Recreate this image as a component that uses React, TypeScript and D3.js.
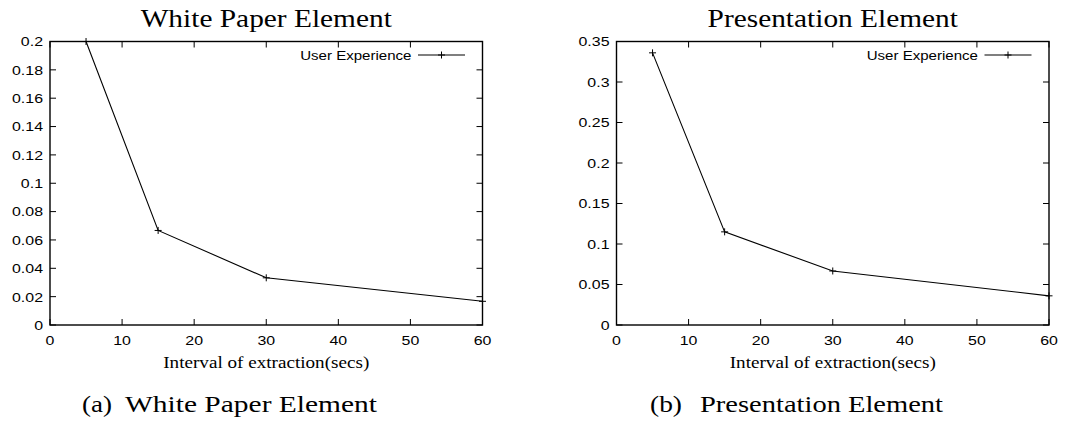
import React from "react";
import * as d3 from "d3";

// ---- data ----
const intervals = [5, 15, 30, 60];
const whitePaperValues = [0.2, 0.0667, 0.0333, 0.0167];
const presentationValues = [0.336, 0.115, 0.0667, 0.036];

const xTicks = [0, 10, 20, 30, 40, 50, 60];
const yTicksWhite = [0, 0.02, 0.04, 0.06, 0.08, 0.1, 0.12, 0.14, 0.16, 0.18, 0.2];
const yTicksPres = [0, 0.05, 0.1, 0.15, 0.2, 0.25, 0.3, 0.35];

const seriesName = "User Experience";
const xLabel = "Interval of extraction(secs)";

const SANS = "'Liberation Sans', Arial, Helvetica, sans-serif";
const SERIF = "'Liberation Serif', 'Times New Roman', serif";

function SText({ x, y, anchor = "start", size, family, sx = 1.15, dy, children }: any) {
  return (
    <text
      transform={`translate(${x},${y}) scale(${sx},1)`}
      textAnchor={anchor}
      fontSize={size}
      fontFamily={family}
      dy={dy}
      fill="#000"
    >
      {children}
    </text>
  );
}

function Panel({ x0, x1, title, values, yMax, yTicks, capTag, capText, capTagX, capTagW, capTextX, capTextW }: any) {
  const top = 41.5;
  const bottom = 325;
  const x = d3.scaleLinear().domain([0, 60]).range([x0, x1]);
  const y = d3.scaleLinear().domain([0, yMax]).range([bottom, top]);
  const line = d3
    .line<number>()
    .x((_, i) => x(intervals[i]))
    .y((d) => y(d));
  const tl = 6;
  const fmt = (v: number) => String(+v.toFixed(2));
  const cx = (x0 + x1) / 2;
  const legY = 55;
  const legLineA = x1 - 64.5;
  const legLineB = x1 - 17.5;
  const ms = 3.5;
  return (
    <g>
      {/* title */}
      <SText x={cx} y={26.7} anchor="middle" size={26} family={SERIF} sx={1.13}>
        {title}
      </SText>
      {/* ticks */}
      {xTicks.map((t) => (
        <g key={"x" + t}>
          <line x1={x(t)} x2={x(t)} y1={bottom} y2={bottom - tl} stroke="#000" strokeWidth={1} />
          <line x1={x(t)} x2={x(t)} y1={top} y2={top + tl} stroke="#000" strokeWidth={1} />
          <SText x={x(t)} y={345} anchor="middle" size={13.5} family={SANS} sx={1.18}>
            {String(t)}
          </SText>
        </g>
      ))}
      {yTicks.map((t: number) => (
        <g key={"y" + t}>
          <line x1={x0} x2={x0 + tl} y1={y(t)} y2={y(t)} stroke="#000" strokeWidth={1} />
          <line x1={x1} x2={x1 - tl} y1={y(t)} y2={y(t)} stroke="#000" strokeWidth={1} />
          <SText x={x0 - 7} y={y(t)} anchor="end" size={13.5} family={SANS} sx={1.18} dy="0.36em">
            {fmt(t)}
          </SText>
        </g>
      ))}
      {/* frame */}
      <rect x={x0} y={top} width={x1 - x0} height={bottom - top} fill="none" stroke="#000" strokeWidth={1.4} />
      {/* series */}
      <path d={line(values) || ""} fill="none" stroke="#000" strokeWidth={1.1} />
      {values.map((v: number, i: number) => (
        <g key={"m" + i} stroke="#000" strokeWidth={1}>
          <line x1={x(intervals[i]) - ms} x2={x(intervals[i]) + ms} y1={y(v)} y2={y(v)} />
          <line x1={x(intervals[i])} x2={x(intervals[i])} y1={y(v) - ms} y2={y(v) + ms} />
        </g>
      ))}
      {/* legend */}
      <SText x={x1 - 71} y={legY} anchor="end" size={13} family={SANS} sx={1.16} dy="0.36em">
        {seriesName}
      </SText>
      <line x1={legLineA} x2={legLineB} y1={legY} y2={legY} stroke="#000" strokeWidth={1.1} />
      <line x1={(legLineA + legLineB) / 2 - ms} x2={(legLineA + legLineB) / 2 + ms} y1={legY} y2={legY} stroke="#000" />
      <line x1={(legLineA + legLineB) / 2} x2={(legLineA + legLineB) / 2} y1={legY - ms} y2={legY + ms} stroke="#000" />
      {/* x label */}
      <SText x={cx} y={368} anchor="middle" size={16.5} family={SERIF} sx={1.16}>
        {xLabel}
      </SText>
      {/* caption */}
      <text x={capTagX} y={412} fontSize={23} fontFamily={SERIF} textLength={capTagW} lengthAdjust="spacingAndGlyphs" fill="#000">
        {capTag}
      </text>
      <text x={capTextX} y={412} fontSize={23} fontFamily={SERIF} textLength={capTextW} lengthAdjust="spacingAndGlyphs" fill="#000">
        {capText}
      </text>
    </g>
  );
}

export default function App() {
  return (
    <svg
      width={1072}
      height={423}
      style={{ position: "absolute", left: 0, top: 0, background: "#fff" }}
    >
      <rect width={1072} height={423} fill="#fff" />
      <Panel
        x0={50}
        x1={482.5}
        title="White Paper Element"
        values={whitePaperValues}
        yMax={0.2}
        yTicks={yTicksWhite}
        capTag="(a)"
        capText="White Paper Element"
        capTagX={82}
        capTagW={30}
        capTextX={125}
        capTextW={252}
      />
      <Panel
        x0={616.5}
        x1={1049}
        title="Presentation Element"
        values={presentationValues}
        yMax={0.35}
        yTicks={yTicksPres}
        capTag="(b)"
        capText="Presentation Element"
        capTagX={650}
        capTagW={32}
        capTextX={700}
        capTextW={243}
      />
    </svg>
  );
}
